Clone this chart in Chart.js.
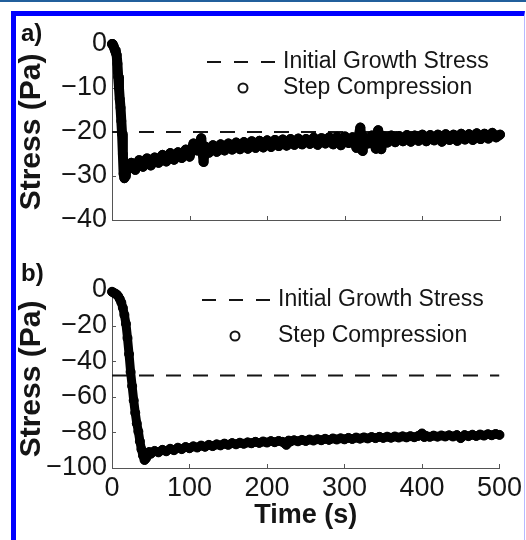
<!DOCTYPE html>
<html>
<head>
<meta charset="utf-8">
<script src="https://cdn.jsdelivr.net/npm/chart.js@4.4.0/dist/chart.umd.min.js"></script>
<style>
  body { margin: 0; width: 526px; height: 540px; position: relative; overflow: hidden; background: #fff; }
  #topbar { position: absolute; left: 0; top: 0; width: 526px; height: 2px; background: #215f9c; }
  #frame { position: absolute; left: 11px; top: 11px; width: 514px; height: 529px; box-sizing: border-box;
           border-top: 5px solid #0000ff; border-left: 5px solid #0000ff; border-right: 1px solid #b8b8ff; }
  .panel { position: absolute; left: 21px; font: bold 24px "Liberation Sans", Arial, sans-serif; color: #111; }
  canvas { position: absolute; left: 0; }
</style>
</head>
<body>
<div id="topbar"></div>
<div id="frame"></div>
<canvas id="chartA" width="526" height="256" style="top:0"></canvas>
<canvas id="chartB" width="526" height="284" style="top:256px"></canvas>
<div class="panel" style="top:19px">a)</div>
<div class="panel" style="top:259px">b)</div>
<script>
// panel a) time (s) and stress (Pa)
var timeA = [0, 1, 2, 3, 4, 5, 6, 7, 8, 9, 10, 11, 12, 13, 14, 15, 16, 17, 18, 20, 22,
  25, 30, 35, 40, 45, 50, 55, 60, 65, 70, 75, 80, 85, 90, 95, 100, 105, 110, 115, 118,
  120, 125, 130, 135, 140, 145, 150, 155, 160, 165, 170, 175, 180, 185, 190, 195, 200,
  205, 210, 215, 220, 225, 230, 235, 240, 245, 250, 255, 260, 265, 270, 275, 280, 285,
  290, 295, 300, 305, 310, 315, 320, 323, 325, 330, 335, 340, 343, 347, 350, 355, 360,
  365, 370, 375, 380, 385, 390, 395, 400, 405, 410, 415, 420, 425, 430, 435, 440, 445,
  450, 455, 460, 465, 470, 475, 480, 485, 490, 495, 500];
var stressA = [0, 0, -0.5, -1, -1.5, -2, -2.5, -4.5, -7.5, -10, -12.5, -14.5, -17.5, -20.5, -25, -29.5, -30.5, -30, -29, -28.5, -28,
  -27.0, -28.6, -26.4, -27.9, -26.0, -27.6, -25.8, -27.0, -25.2, -26.7, -24.8, -26.3, -24.6, -25.9, -24.0, -25.6, -22.6, -24.2, -21.4, -26.8,
  -23.3, -24.7, -23.0, -24.5, -22.8, -24.2, -22.6, -24.0, -22.4, -23.9, -22.3, -23.8, -22.1, -23.6, -22.0, -23.5, -21.9,
  -23.4, -21.8, -23.2, -21.7, -23.1, -21.6, -22.9, -21.5, -22.8, -21.6, -22.7, -21.3, -22.9, -21.4, -22.6, -21.2, -22.8,
  -21.1, -23.0, -21.0, -22.5, -21.2, -23.6, -19.0, -24.3, -21.2, -22.6, -20.8, -23.8, -19.6, -23.9, -21.0, -22.4, -20.8,
  -22.3, -20.9, -22.1, -20.7, -22.2, -20.8, -22.0, -20.6, -22.1, -20.7, -21.9, -20.6, -22.2, -20.5, -21.8, -20.6, -22.0,
  -20.4, -21.7, -20.5, -21.8, -20.3, -21.6, -20.4, -21.5, -20.2, -21.2, -20.6];
var growthA = -20;
var yTicksA = [0, -10, -20, -30, -40];

// panel b) time (s) and stress (Pa)
var timeB = [0, 2, 4, 6, 8, 10, 12, 14, 16, 18, 20, 22, 24, 26, 28, 30, 32, 34, 36, 38, 40, 42, 44,
  46, 48, 50, 55, 60, 65, 70, 75, 80, 85, 90, 95, 100, 105, 110, 115, 120, 125, 130, 135, 140,
  145, 150, 155, 160, 165, 170, 175, 180, 185, 190, 195, 200, 205, 210, 215, 220, 225, 228, 230,
  235, 240, 245, 250, 255, 260, 265, 270, 275, 280, 285, 290, 295, 300, 305, 310, 315, 320, 325,
  330, 335, 340, 345, 350, 355, 360, 365, 370, 375, 380, 385, 390, 395, 400, 403, 405, 410, 415,
  420, 425, 430, 435, 440, 445, 450, 455, 460, 465, 470, 475, 480, 485, 490, 495, 500];
var stressB = [-1, -1.5, -2, -2.5, -3.5, -5, -7, -10, -14, -19, -27, -36, -46, -54, -62, -69, -75, -79.5, -85, -89.5, -93, -95.5, -94.5,
  -92.3, -91.0, -92.0, -90.4, -91.2, -89.8, -90.6, -89.2, -90.0, -88.6, -89.4, -88.2, -88.9, -87.8, -88.5, -87.4, -88.1, -87.0, -87.7, -86.7, -87.3,
  -86.3, -87.0, -86.0, -86.7, -85.8, -86.4, -85.6, -86.1, -85.3, -85.9, -85.1, -85.7, -84.9, -85.5, -84.8, -85.3, -87.0, -84.6, -85.2,
  -84.4, -85.0, -84.2, -84.8, -84.0, -84.6, -83.8, -84.4, -83.6, -84.2, -83.4, -84.0, -83.3, -83.9, -83.1, -83.7, -82.9, -83.5, -82.8,
  -83.4, -82.6, -83.2, -82.5, -83.1, -82.4, -83.0, -82.3, -82.9, -82.2, -82.8, -82.1, -82.7, -82.0, -80.6, -82.6, -81.9, -82.5, -81.8,
  -82.4, -81.7, -82.3, -81.6, -82.3, -81.5, -83.2, -81.5, -82.1, -81.3, -82.0, -81.2, -81.8, -81.0, -81.6, -80.9, -81.4];
var growthB = -48;
var yTicksB = [0, -20, -40, -60, -80, -100];

var xTicks = [0, 100, 200, 300, 400, 500];

var FONT = '"Liberation Sans", Arial, sans-serif';
var INK = '#151515';
var AXIS = '#555';

// short tick marks pointing into the plot
var innerTicks = {
    id: 'innerTicks',
    beforeDatasetsDraw: function (chart) {
        var ctx = chart.ctx, area = chart.chartArea;
        var sx = chart.scales.x, sy = chart.scales.y;
        ctx.save();
        ctx.strokeStyle = AXIS;
        ctx.lineWidth = 1;
        ctx.beginPath();
        sx.ticks.forEach(function (t) {
            var px = Math.round(sx.getPixelForValue(t.value)) + 0.5;
            ctx.moveTo(px, area.bottom);
            ctx.lineTo(px, area.bottom - 4);
        });
        sy.ticks.forEach(function (t) {
            var py = Math.round(sy.getPixelForValue(t.value)) + 0.5;
            ctx.moveTo(area.left, py);
            ctx.lineTo(area.left + 4, py);
        });
        ctx.stroke();
        ctx.restore();
    }
};

// legend drawn inside the plot
var stepLegend = {
    id: 'stepLegend',
    afterDraw: function (chart, args, o) {
        var ctx = chart.ctx;
        var ds = chart.data.datasets;
        ctx.save();
        ctx.fillStyle = INK;
        ctx.strokeStyle = INK;
        ctx.font = '23px ' + FONT;
        ctx.textBaseline = 'middle';
        ctx.lineWidth = 2;
        ctx.setLineDash([14, 13]);
        ctx.beginPath();
        ctx.moveTo(o.dashX, o.rowY[0]);
        ctx.lineTo(o.dashX + 68, o.rowY[0]);
        ctx.stroke();
        ctx.setLineDash([]);
        ctx.fillText(ds[0].label, o.textX, o.rowY[0]);
        ctx.beginPath();
        ctx.arc(o.markX, o.rowY[1], 4.5, 0, Math.PI * 2);
        ctx.stroke();
        ctx.fillText(ds[1].label, o.textX, o.rowY[1]);
        ctx.restore();
    }
};

function minus(v) {
    return String(v).replace('-', '\u2212');
}

function crearPanel(id, times, stress, growth, yTicks, pad, xHeight, showX, lineW, legend) {
    var puntos = times.map(function (t, i) { return { x: t, y: stress[i] }; });
    var base = [{ x: xTicks[0], y: growth }, { x: xTicks[xTicks.length - 1], y: growth }];

    new Chart(document.getElementById(id), {
        type: 'scatter',
        data: {
            datasets: [{
                label: 'Initial Growth Stress',
                data: base,
                showLine: true,
                borderColor: INK,
                borderWidth: 2,
                borderDash: [15, 12],
                pointRadius: 0,
                order: 2
            }, {
                label: 'Step Compression',
                data: puntos,
                showLine: true,
                borderColor: '#000',
                backgroundColor: '#000',
                borderWidth: lineW,
                borderJoinStyle: 'round',
                borderCapStyle: 'round',
                pointRadius: 4.5,
                pointBorderWidth: 1,
                clip: false,
                order: 1
            }]
        },
        options: {
            responsive: false,
            animation: false,
            layout: { padding: pad },
            plugins: { legend: { display: false }, tooltip: { enabled: false }, stepLegend: legend },
            scales: {
                x: {
                    type: 'linear',
                    min: xTicks[0],
                    max: xTicks[xTicks.length - 1],
                    afterBuildTicks: function (s) { s.ticks = xTicks.map(function (v) { return { value: v }; }); },
                    afterFit: function (s) { s.height = xHeight; },
                    grid: { display: false, drawTicks: false },
                    border: { display: true, color: AXIS, width: 1 },
                    ticks: {
                        display: showX,
                        autoSkip: false,
                        maxRotation: 0,
                        padding: 4,
                        color: INK,
                        font: { family: FONT, size: 27 }
                    },
                    title: {
                        display: showX,
                        text: 'Time (s)',
                        color: INK,
                        padding: { top: 0, bottom: 8 },
                        font: { family: FONT, size: 27, weight: 'bold', lineHeight: 1.2 }
                    }
                },
                y: {
                    type: 'linear',
                    min: yTicks[yTicks.length - 1],
                    max: yTicks[0],
                    afterBuildTicks: function (s) { s.ticks = yTicks.slice().reverse().map(function (v) { return { value: v }; }); },
                    afterFit: function (s) { s.width = 96; },
                    grid: { display: false, drawTicks: false },
                    border: { display: true, color: AXIS, width: 1 },
                    ticks: {
                        autoSkip: false,
                        padding: 5,
                        color: INK,
                        font: { family: FONT, size: 27 },
                        callback: minus
                    },
                    title: {
                        display: true,
                        text: 'Stress (Pa)',
                        color: INK,
                        padding: 0,
                        font: { family: FONT, size: 30, weight: 'bold', lineHeight: 1.05 }
                    }
                }
            }
        },
        plugins: [innerTicks, stepLegend]
    });
}

crearPanel('chartA', timeA, stressA, growthA, yTicksA,
    { left: 16, top: 44, right: 26, bottom: 0 }, 36, false, 10,
    { dashX: 207, markX: 243, textX: 283, rowY: [62, 88] });

crearPanel('chartB', timeB, stressB, growthB, yTicksB,
    { left: 16, top: 34, right: 26, bottom: 0 }, 72, true, 9,
    { dashX: 202, markX: 235, textX: 278, rowY: [44, 80] });
</script>
</body>
</html>
